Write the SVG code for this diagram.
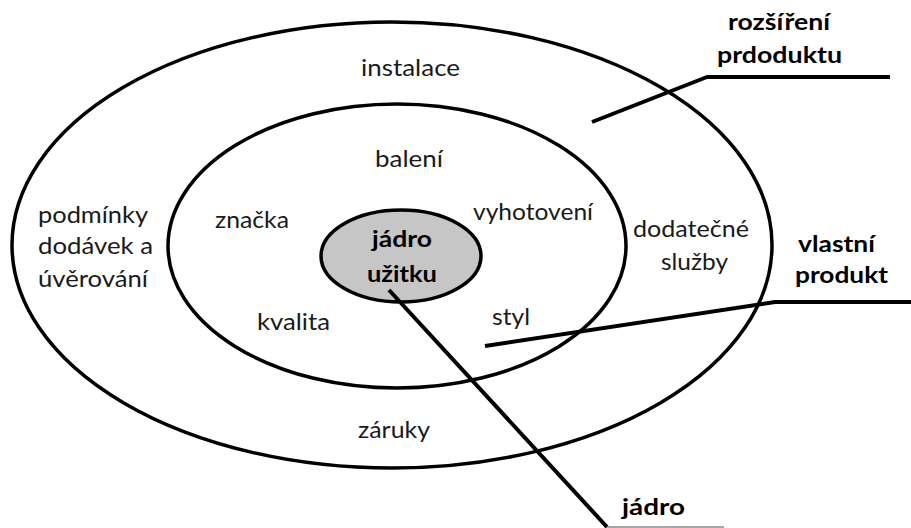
<svg xmlns="http://www.w3.org/2000/svg" width="911" height="528" viewBox="0 0 911 528">
  <style>
    .ring { fill: none; stroke: #000; stroke-width: 3.5; }
    .core { fill: #c6c6c6; stroke: #000; stroke-width: 3.5; }
    .lead { fill: none; stroke: #000; stroke-width: 4; stroke-linejoin: round; }
    .t { font-family: Lato, "Open Sans", "Liberation Sans", sans-serif; font-size: 23px; fill: #1a1a1a; }
    .b { font-weight: bold; fill: #000; }
  </style>
  <rect width="911" height="528" fill="#fff"/>

  <g id="ring-augmented">
    <ellipse class="ring" cx="392" cy="245" rx="380" ry="223"/>
    <text class="t" x="361" y="76" textLength="99" lengthAdjust="spacingAndGlyphs">instalace</text>
    <text class="t" x="38" y="223" textLength="110" lengthAdjust="spacingAndGlyphs">podmínky</text>
    <text class="t" x="38" y="254" textLength="115" lengthAdjust="spacingAndGlyphs">dodávek a</text>
    <text class="t" x="38" y="287" textLength="110" lengthAdjust="spacingAndGlyphs">úvěrování</text>
    <text class="t" x="633" y="237" textLength="116" lengthAdjust="spacingAndGlyphs">dodatečné</text>
    <text class="t" x="661" y="270" textLength="67" lengthAdjust="spacingAndGlyphs">služby</text>
    <text class="t" x="358" y="438" textLength="72" lengthAdjust="spacingAndGlyphs">záruky</text>
  </g>

  <g id="ring-actual">
    <ellipse class="ring" cx="397" cy="246" rx="229" ry="142"/>
    <text class="t" x="375" y="167" textLength="68" lengthAdjust="spacingAndGlyphs">balení</text>
    <text class="t" x="215" y="228" textLength="74" lengthAdjust="spacingAndGlyphs">značka</text>
    <text class="t" x="473" y="220" textLength="120" lengthAdjust="spacingAndGlyphs">vyhotovení</text>
    <text class="t" x="257" y="330" textLength="73" lengthAdjust="spacingAndGlyphs">kvalita</text>
    <text class="t" x="492" y="325" textLength="38" lengthAdjust="spacingAndGlyphs">styl</text>
  </g>

  <g id="core">
    <ellipse class="core" cx="401" cy="256" rx="80" ry="46"/>
    <text class="t b" x="372" y="247" textLength="60" lengthAdjust="spacingAndGlyphs">jádro</text>
    <text class="t b" x="367" y="282" textLength="70" lengthAdjust="spacingAndGlyphs">užitku</text>
  </g>

  <g id="connectors">
    <polyline class="lead" points="592,122 707,77 890,77"/>
    <polyline class="lead" points="485,346 775,302 911,302"/>
    <polyline class="lead" stroke-width="3" points="389,290 607,527"/>
    <line x1="607" y1="527" x2="724" y2="527" stroke="#888" stroke-width="1.5"/>
  </g>

  <g id="labels">
    <text class="t b" x="728" y="30" textLength="102" lengthAdjust="spacingAndGlyphs">rozšíření</text>
    <text class="t b" x="717" y="63" textLength="125" lengthAdjust="spacingAndGlyphs">prdoduktu</text>
    <text class="t b" x="798" y="252" textLength="77" lengthAdjust="spacingAndGlyphs">vlastní</text>
    <text class="t b" x="795" y="283" textLength="93" lengthAdjust="spacingAndGlyphs">produkt</text>
    <text class="t b" x="622" y="515" textLength="63" lengthAdjust="spacingAndGlyphs">jádro</text>
  </g>
</svg>
